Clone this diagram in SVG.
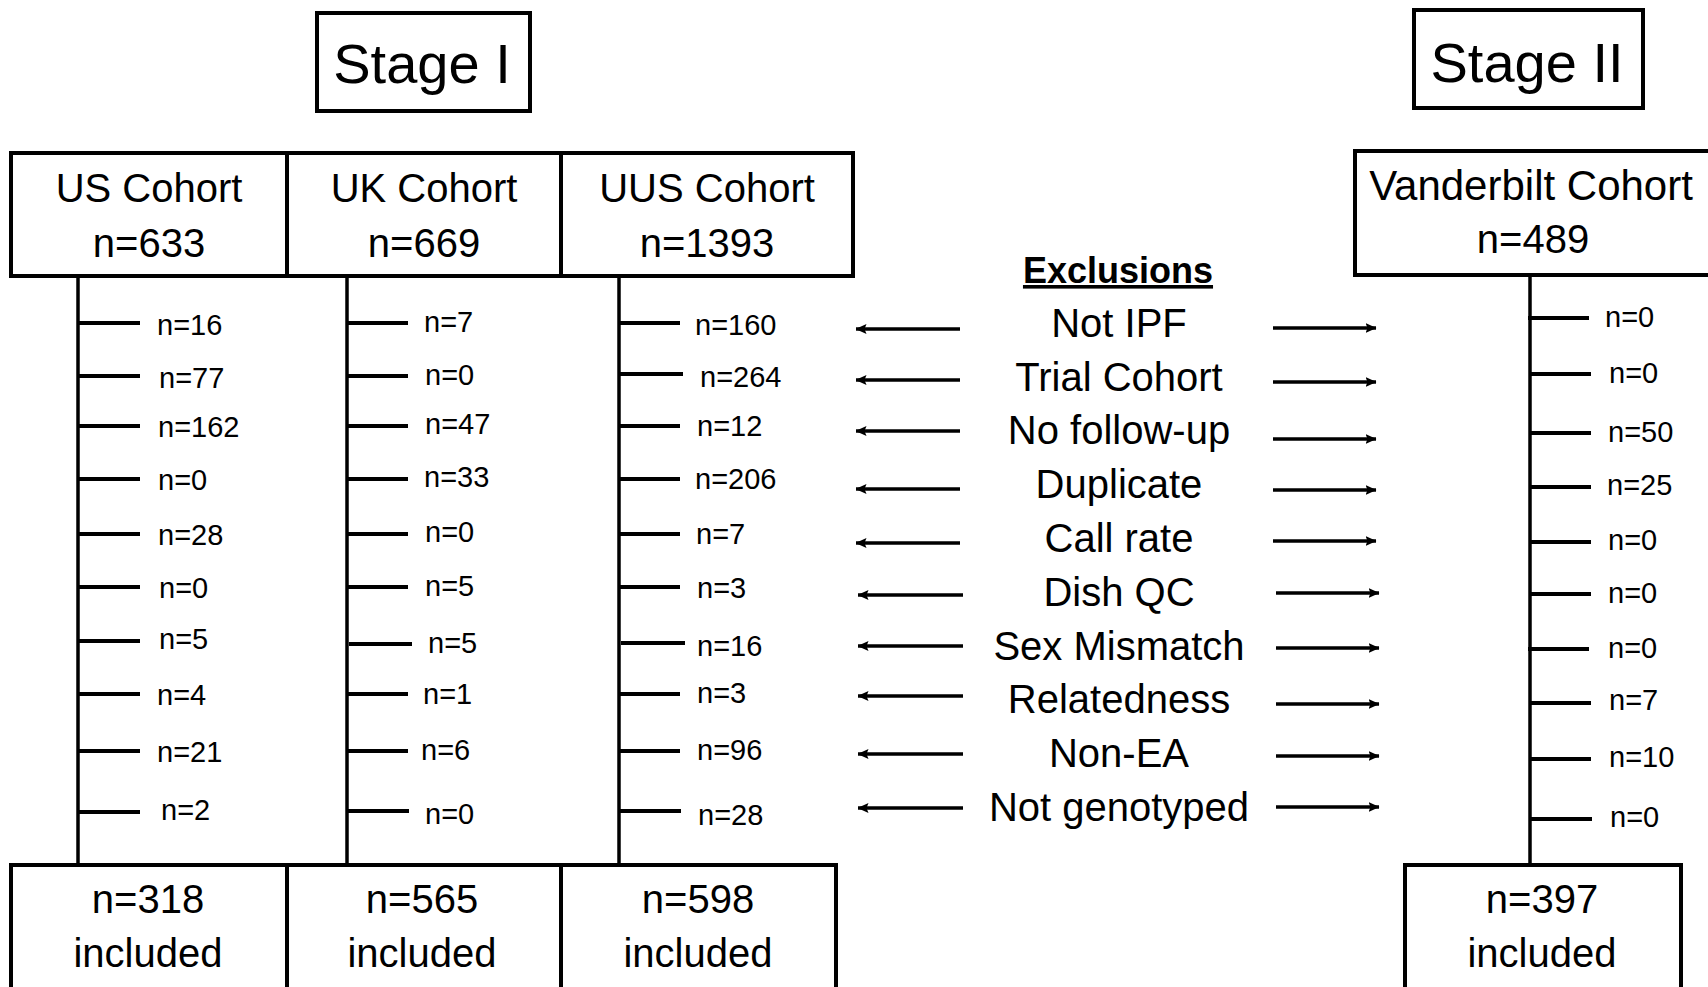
<svg xmlns="http://www.w3.org/2000/svg" width="1708" height="987" viewBox="0 0 1708 987">
<style>
.box{fill:#fff;stroke:#000;stroke-width:4}
.t{font-family:"Liberation Sans",Arial,sans-serif;fill:#000}
.stage{font-size:56px;text-anchor:middle}
.hd{font-size:40px;text-anchor:middle}
.ex{font-size:40px;text-anchor:middle}
.lb{font-size:29px}
.vl{stroke:#000;stroke-width:3.5;fill:none}
.tk{stroke:#000;stroke-width:4;fill:none}
.ar{stroke:#000;stroke-width:3.5;fill:none;marker-end:url(#ah)}
</style>
<defs>
<marker id="ah" viewBox="0 0 11 10" refX="10.5" refY="5" markerWidth="11" markerHeight="10" markerUnits="userSpaceOnUse" orient="auto">
<path d="M0,0 L11,5 L0,10 L2,5 z" fill="#000"/>
</marker>
</defs>
<rect width="1708" height="987" fill="#fff"/>

<g id="stage1"><rect class="box" x="317" y="13" width="213" height="98"/><text class="t stage" x="422" y="83">Stage I</text></g>
<g id="stage2"><rect class="box" x="1414" y="10" width="229" height="98"/><text class="t stage" x="1527" y="82">Stage II</text></g>

<g id="us-cohort"><rect class="box" x="11" y="153" width="276" height="123"/><text class="t hd" x="149" y="202">US Cohort</text><text class="t hd" x="149" y="257">n=633</text></g>
<g id="uk-cohort"><rect class="box" x="287" y="153" width="274" height="123"/><text class="t hd" x="424" y="202">UK Cohort</text><text class="t hd" x="424" y="257">n=669</text></g>
<g id="uus-cohort"><rect class="box" x="561" y="153" width="292" height="123"/><text class="t hd" x="707" y="202">UUS Cohort</text><text class="t hd" x="707" y="257">n=1393</text></g>
<g id="vanderbilt-cohort"><rect class="box" x="1355" y="151" width="400" height="124"/><text class="t hd" x="1531" y="200" style="font-size:42px">Vanderbilt Cohort</text><text class="t hd" x="1533" y="253">n=489</text></g>

<g id="us-included"><rect class="box" x="11" y="865" width="276" height="140"/><text class="t hd" x="148" y="913">n=318</text><text class="t hd" x="148" y="967">included</text></g>
<g id="uk-included"><rect class="box" x="287" y="865" width="274" height="140"/><text class="t hd" x="422" y="913">n=565</text><text class="t hd" x="422" y="967">included</text></g>
<g id="uus-included"><rect class="box" x="561" y="865" width="275" height="140"/><text class="t hd" x="698" y="913">n=598</text><text class="t hd" x="698" y="967">included</text></g>
<g id="vanderbilt-included"><rect class="box" x="1405" y="865" width="276" height="140"/><text class="t hd" x="1542" y="913">n=397</text><text class="t hd" x="1542" y="967">included</text></g>

<g id="exclusions">
<text class="t" x="1118" y="283" font-size="36" font-weight="bold" text-anchor="middle" text-decoration="underline">Exclusions</text>
<text class="t ex" x="1119" y="337">Not IPF</text>
<text class="t ex" x="1119" y="391">Trial Cohort</text>
<text class="t ex" x="1119" y="444">No follow-up</text>
<text class="t ex" x="1119" y="498">Duplicate</text>
<text class="t ex" x="1119" y="552">Call rate</text>
<text class="t ex" x="1119" y="606">Dish QC</text>
<text class="t ex" x="1119" y="660">Sex Mismatch</text>
<text class="t ex" x="1119" y="713">Relatedness</text>
<text class="t ex" x="1119" y="767">Non-EA</text>
<text class="t ex" x="1119" y="821">Not genotyped</text>
</g>

<g id="connectors">
<line class="vl" x1="78" y1="276" x2="78" y2="865"/>
<line class="vl" x1="347" y1="276" x2="347" y2="865"/>
<line class="vl" x1="619" y1="276" x2="619" y2="865"/>
<line class="vl" x1="1530" y1="275" x2="1530" y2="865"/>
<path class="tk" d="M78,323H140M78,376H140M78,426H140M78,479H140M78,534H140M78,587H140M78,641H140M78,694H140M78,751H140M78,812H140"/>
<path class="tk" d="M347,323H408M347,376H408M347,426H408M347,479H408M347,534H408M347,587H408M349,644H412M347,694H408M347,751H408M347,811H409"/>
<path class="tk" d="M619,323H680M619,374H683M619,426H680M619,479H680M619,534H680M619,587H680M621,643H685M619,694H680M619,751H680M619,811H681"/>
<path class="tk" d="M1528,318H1589M1530,374H1591M1530,433H1591M1530,487H1591M1530,542H1591M1530,594H1591M1528,649H1589M1530,703H1591M1530,759H1591M1530,819H1592"/>
<line class="ar" x1="960" y1="329" x2="856" y2="329"/>
<line class="ar" x1="960" y1="380" x2="856" y2="380"/>
<line class="ar" x1="960" y1="431" x2="856" y2="431"/>
<line class="ar" x1="960" y1="489" x2="856" y2="489"/>
<line class="ar" x1="960" y1="543" x2="856" y2="543"/>
<line class="ar" x1="963" y1="595" x2="858" y2="595"/>
<line class="ar" x1="963" y1="646" x2="858" y2="646"/>
<line class="ar" x1="963" y1="696" x2="858" y2="696"/>
<line class="ar" x1="963" y1="754" x2="858" y2="754"/>
<line class="ar" x1="963" y1="808" x2="858" y2="808"/>
<line class="ar" x1="1273" y1="328" x2="1376" y2="328"/>
<line class="ar" x1="1273" y1="382" x2="1376" y2="382"/>
<line class="ar" x1="1273" y1="439" x2="1376" y2="439"/>
<line class="ar" x1="1273" y1="490" x2="1376" y2="490"/>
<line class="ar" x1="1273" y1="541" x2="1376" y2="541"/>
<line class="ar" x1="1276" y1="593" x2="1379" y2="593"/>
<line class="ar" x1="1276" y1="648" x2="1379" y2="648"/>
<line class="ar" x1="1276" y1="704" x2="1379" y2="704"/>
<line class="ar" x1="1276" y1="756" x2="1379" y2="756"/>
<line class="ar" x1="1276" y1="807" x2="1379" y2="807"/>
</g>

<g id="us-labels">
<text class="t lb" x="157" y="335">n=16</text>
<text class="t lb" x="159" y="388">n=77</text>
<text class="t lb" x="158" y="437">n=162</text>
<text class="t lb" x="158" y="490">n=0</text>
<text class="t lb" x="158" y="545">n=28</text>
<text class="t lb" x="159" y="598">n=0</text>
<text class="t lb" x="159" y="649">n=5</text>
<text class="t lb" x="157" y="705">n=4</text>
<text class="t lb" x="157" y="762">n=21</text>
<text class="t lb" x="161" y="820">n=2</text>
</g>
<g id="uk-labels">
<text class="t lb" x="424" y="332">n=7</text>
<text class="t lb" x="425" y="385">n=0</text>
<text class="t lb" x="425" y="434">n=47</text>
<text class="t lb" x="424" y="487">n=33</text>
<text class="t lb" x="425" y="542">n=0</text>
<text class="t lb" x="425" y="596">n=5</text>
<text class="t lb" x="428" y="653">n=5</text>
<text class="t lb" x="423" y="704">n=1</text>
<text class="t lb" x="421" y="760">n=6</text>
<text class="t lb" x="425" y="824">n=0</text>
</g>
<g id="uus-labels">
<text class="t lb" x="695" y="335">n=160</text>
<text class="t lb" x="700" y="387">n=264</text>
<text class="t lb" x="697" y="436">n=12</text>
<text class="t lb" x="695" y="489">n=206</text>
<text class="t lb" x="696" y="544">n=7</text>
<text class="t lb" x="697" y="598">n=3</text>
<text class="t lb" x="697" y="656">n=16</text>
<text class="t lb" x="697" y="703">n=3</text>
<text class="t lb" x="697" y="760">n=96</text>
<text class="t lb" x="698" y="825">n=28</text>
</g>
<g id="vanderbilt-labels">
<text class="t lb" x="1605" y="327">n=0</text>
<text class="t lb" x="1609" y="383">n=0</text>
<text class="t lb" x="1608" y="442">n=50</text>
<text class="t lb" x="1607" y="495">n=25</text>
<text class="t lb" x="1608" y="550">n=0</text>
<text class="t lb" x="1608" y="603">n=0</text>
<text class="t lb" x="1608" y="658">n=0</text>
<text class="t lb" x="1609" y="710">n=7</text>
<text class="t lb" x="1609" y="767">n=10</text>
<text class="t lb" x="1610" y="827">n=0</text>
</g>
</svg>
